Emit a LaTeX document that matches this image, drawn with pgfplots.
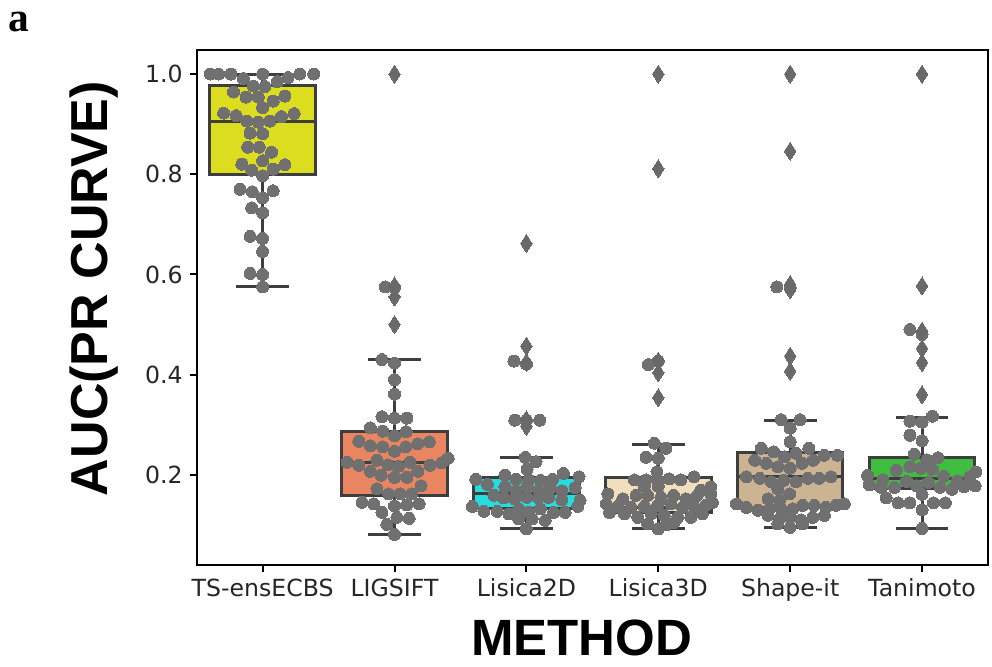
\documentclass[border=0pt]{standalone}
\usepackage{fontspec}
\setmainfont{DejaVu Sans}
\newfontfamily\labelsans{Liberation Sans}
\newfontfamily\serifb{Liberation Serif}
\usepackage{pgfplots}
\usepackage{pgfplotstable}
\pgfplotsset{compat=1.18}
\usepgfplotslibrary{statistics}

\definecolor{tsfill}{RGB}{221,221,32}
\definecolor{ligfill}{RGB}{233,133,96}
\definecolor{ltwofill}{RGB}{36,222,222}
\definecolor{lthreefill}{RGB}{240,222,188}
\definecolor{shapefill}{RGB}{204,180,146}
\definecolor{tanfill}{RGB}{64,190,64}
\definecolor{boxedge}{RGB}{62,62,62}
\definecolor{dotgray}{RGB}{112,112,112}
\definecolor{diagray}{RGB}{105,105,105}

\pgfplotstableread{
o v
-0.397 1.000
-0.334 1.000
-0.241 1.000
0.000 1.000
0.281 1.000
0.387 1.000
-0.146 0.991
0.193 0.993
-0.070 0.976
0.018 0.975
0.111 0.985
-0.221 0.964
-0.126 0.954
-0.033 0.954
0.080 0.946
0.168 0.956
0.000 0.933
-0.296 0.922
-0.201 0.917
-0.121 0.906
-0.033 0.904
0.055 0.906
0.143 0.915
0.239 0.921
-0.095 0.882
0.000 0.881
-0.113 0.854
-0.025 0.854
0.068 0.844
-0.158 0.820
0.000 0.827
0.080 0.810
0.168 0.819
-0.083 0.808
0.000 0.797
-0.171 0.770
-0.078 0.765
0.000 0.753
0.080 0.767
-0.083 0.733
0.000 0.723
-0.095 0.676
0.000 0.672
0.000 0.646
-0.095 0.602
0.000 0.600
0.000 0.575
}\tsdots

\pgfplotstableread{
o v
-0.070 0.575
0.000 0.574
-0.095 0.430
0.000 0.423
0.000 0.390
0.000 0.361
-0.095 0.316
0.000 0.313
0.093 0.313
-0.183 0.294
-0.090 0.287
0.000 0.278
0.088 0.286
-0.271 0.267
-0.183 0.258
-0.090 0.256
0.000 0.247
0.085 0.256
0.176 0.262
0.264 0.266
-0.359 0.225
-0.271 0.219
-0.183 0.207
-0.133 0.229
-0.050 0.220
0.030 0.217
0.118 0.225
0.176 0.207
0.269 0.219
0.357 0.224
0.407 0.233
-0.101 0.199
0.000 0.195
0.093 0.195
-0.133 0.172
-0.045 0.162
0.043 0.162
0.131 0.162
0.201 0.178
-0.246 0.145
-0.158 0.142
0.000 0.138
0.093 0.140
0.186 0.142
-0.095 0.125
0.018 0.115
0.111 0.113
-0.058 0.101
0.000 0.081
}\ligdots

\pgfplotstableread{
o v
-0.095 0.427
0.000 0.421
-0.088 0.309
0.000 0.309
0.101 0.309
-0.008 0.235
0.073 0.226
0.005 0.211
-0.384 0.191
-0.163 0.199
-0.078 0.191
0.018 0.190
0.106 0.189
0.198 0.191
0.281 0.203
0.399 0.196
-0.296 0.181
-0.163 0.176
-0.078 0.168
0.005 0.177
0.093 0.169
0.181 0.174
0.269 0.168
0.369 0.174
-0.246 0.159
-0.171 0.154
-0.088 0.152
0.005 0.155
0.093 0.154
0.168 0.155
0.269 0.150
-0.410 0.137
-0.322 0.127
-0.221 0.127
-0.133 0.122
-0.058 0.132
0.018 0.125
0.106 0.132
0.206 0.125
0.294 0.125
0.389 0.137
0.407 0.149
-0.058 0.112
0.043 0.112
0.143 0.109
0.000 0.092
}\ltwodots

\pgfplotstableread{
o v
-0.075 0.420
0.000 0.427
-0.030 0.263
0.058 0.253
-0.093 0.235
0.000 0.233
-0.010 0.206
-0.181 0.190
-0.093 0.190
0.000 0.189
0.083 0.192
0.171 0.190
0.271 0.196
-0.106 0.177
0.000 0.177
0.322 0.169
0.397 0.176
-0.382 0.162
-0.269 0.152
-0.168 0.159
-0.080 0.159
0.020 0.155
0.116 0.159
0.209 0.152
0.296 0.159
0.397 0.162
-0.394 0.142
-0.307 0.137
-0.206 0.135
-0.106 0.137
-0.005 0.139
0.095 0.142
0.183 0.135
0.271 0.137
0.359 0.139
0.410 0.145
-0.369 0.125
-0.256 0.122
-0.156 0.115
-0.055 0.122
0.045 0.119
0.146 0.115
0.246 0.115
0.334 0.122
-0.080 0.102
0.060 0.100
0.121 0.105
0.000 0.092
}\lthreedots

\pgfplotstableread{
o v
-0.101 0.575
0.000 0.573
-0.068 0.310
0.075 0.310
0.000 0.293
0.000 0.266
-0.219 0.253
-0.126 0.246
-0.043 0.236
0.045 0.243
0.141 0.253
0.259 0.239
0.359 0.239
-0.269 0.229
-0.181 0.223
-0.093 0.216
0.000 0.213
0.090 0.223
0.176 0.229
-0.332 0.196
-0.231 0.193
-0.143 0.186
-0.050 0.189
0.045 0.186
0.133 0.193
0.221 0.193
0.309 0.196
-0.093 0.172
-0.005 0.162
-0.168 0.152
-0.080 0.149
-0.407 0.142
-0.332 0.135
-0.244 0.129
-0.156 0.132
-0.068 0.132
0.020 0.132
0.095 0.139
0.183 0.139
0.271 0.135
0.347 0.139
0.410 0.142
-0.168 0.119
-0.080 0.112
0.000 0.115
0.083 0.110
0.171 0.115
0.259 0.119
-0.093 0.102
0.000 0.095
0.095 0.102
}\shapedots

\pgfplotstableread{
o v
-0.092 0.490
0.000 0.480
-0.092 0.307
0.000 0.305
0.079 0.317
-0.092 0.279
0.000 0.268
-0.059 0.241
0.036 0.230
0.121 0.234
-0.195 0.209
-0.092 0.216
-0.008 0.213
0.079 0.211
-0.413 0.199
-0.297 0.190
0.164 0.197
0.267 0.188
0.362 0.196
0.408 0.206
-0.400 0.180
-0.310 0.175
-0.208 0.175
-0.118 0.187
-0.041 0.178
0.049 0.185
0.138 0.175
0.228 0.171
0.318 0.176
0.403 0.178
-0.272 0.154
-0.182 0.144
-0.092 0.144
0.000 0.161
0.087 0.144
0.177 0.144
0.000 0.130
0.000 0.093
}\tandots

\pgfplotstableread{
x v
1 1.000
1 0.577
1 0.555
1 0.500
2 0.662
2 0.457
2 0.424
2 0.310
2 0.297
3 1.000
3 0.811
3 0.427
3 0.404
3 0.354
4 1.000
4 0.846
4 0.580
4 0.570
4 0.437
4 0.407
5 1.000
5 0.577
5 0.487
5 0.452
5 0.424
5 0.360
}\fliers

\begin{document}
\begin{tikzpicture}
\path[use as bounding box] (-98.35pt,-51pt) rectangle (397.65pt,282.5pt);
\begin{axis}[
  at={(0pt,0pt)}, anchor=south west,
  scale only axis, width=395.65pt, height=257.5pt,
  xmin=-0.5, xmax=5.5, ymin=0.02, ymax=1.048,
  boxplot/draw direction=y,
  xtick={0,1,2,3,4,5},
  xticklabels={TS-ensECBS,LIGSIFT,Lisica2D,Lisica3D,Shape-it,Tanimoto},
  ytick={0.2,0.4,0.6,0.8,1.0},
  yticklabel style={/pgf/number format/fixed,/pgf/number format/fixed zerofill,/pgf/number format/precision=1},
  /pgf/number format/assume math mode=true,
  tick label style={font=\fontsize{11.8}{14}\selectfont, text=black!85},
  axis line style={line width=1pt, black},
  tick style={line width=1pt, black},
  tick align=outside, major tick length=3.5pt,
  xtick pos=bottom, ytick pos=left,
  clip=false,
]
\addplot[boxplot prepared={draw position=0, lower whisker=0.575, lower quartile=0.800, median=0.905, upper quartile=0.978, upper whisker=1.0, box extend=0.8, whisker extend=0.4}, draw=boxedge, line width=1.5pt, fill=tsfill] coordinates {};
\addplot[boxplot prepared={draw position=1, lower whisker=0.081, lower quartile=0.159, median=0.225, upper quartile=0.286, upper whisker=0.430, box extend=0.8, whisker extend=0.4}, draw=boxedge, line width=1.5pt, fill=ligfill] coordinates {};
\addplot[boxplot prepared={draw position=2, lower whisker=0.092, lower quartile=0.132, median=0.162, upper quartile=0.195, upper whisker=0.234, box extend=0.8, whisker extend=0.4}, draw=boxedge, line width=1.5pt, fill=ltwofill] coordinates {};
\addplot[boxplot prepared={draw position=3, lower whisker=0.092, lower quartile=0.125, median=0.135, upper quartile=0.194, upper whisker=0.260, box extend=0.8, whisker extend=0.4}, draw=boxedge, line width=1.5pt, fill=lthreefill] coordinates {};
\addplot[boxplot prepared={draw position=4, lower whisker=0.095, lower quartile=0.135, median=0.196, upper quartile=0.244, upper whisker=0.308, box extend=0.8, whisker extend=0.4}, draw=boxedge, line width=1.5pt, fill=shapefill] coordinates {};
\addplot[boxplot prepared={draw position=5, lower whisker=0.093, lower quartile=0.172, median=0.192, upper quartile=0.235, upper whisker=0.315, box extend=0.8, whisker extend=0.4}, draw=boxedge, line width=1.5pt, fill=tanfill] coordinates {};

\pgfplotsset{dotstyle/.style={only marks, color=dotgray, mark=*, mark size=3pt, mark options={fill=dotgray, draw=dotgray, line width=0pt}}}
\addplot[dotstyle] table[x expr=\thisrow{o}, y=v] {\tsdots};
\addplot[dotstyle] table[x expr=\thisrow{o}+1, y=v] {\ligdots};
\addplot[dotstyle] table[x expr=\thisrow{o}+2, y=v] {\ltwodots};
\addplot[dotstyle] table[x expr=\thisrow{o}+3, y=v] {\lthreedots};
\addplot[dotstyle] table[x expr=\thisrow{o}+4, y=v] {\shapedots};
\addplot[dotstyle] table[x expr=\thisrow{o}+5, y=v] {\tandots};
\addplot[only marks, color=diagray, mark=diamond*, mark size=4.5pt, mark options={fill=diagray, draw=diagray, line width=0pt, xscale=0.85}] table[x=x, y=v] {\fliers};
\end{axis}
\node[anchor=base west, inner sep=0pt, font=\serifb\bfseries\fontsize{20.7}{24}\selectfont] at (-94.35pt,266.5pt) {a};
\node[rotate=90, inner sep=0pt, font=\labelsans\bfseries\fontsize{26}{30}\selectfont] at (-51.1pt,138.25pt) {AUC(PR CURVE)};
\node[anchor=base, inner sep=0pt, font=\labelsans\bfseries\fontsize{25.5}{30}\selectfont] at (192.4pt,-45.5pt) {METHOD};
\end{tikzpicture}
\end{document}
